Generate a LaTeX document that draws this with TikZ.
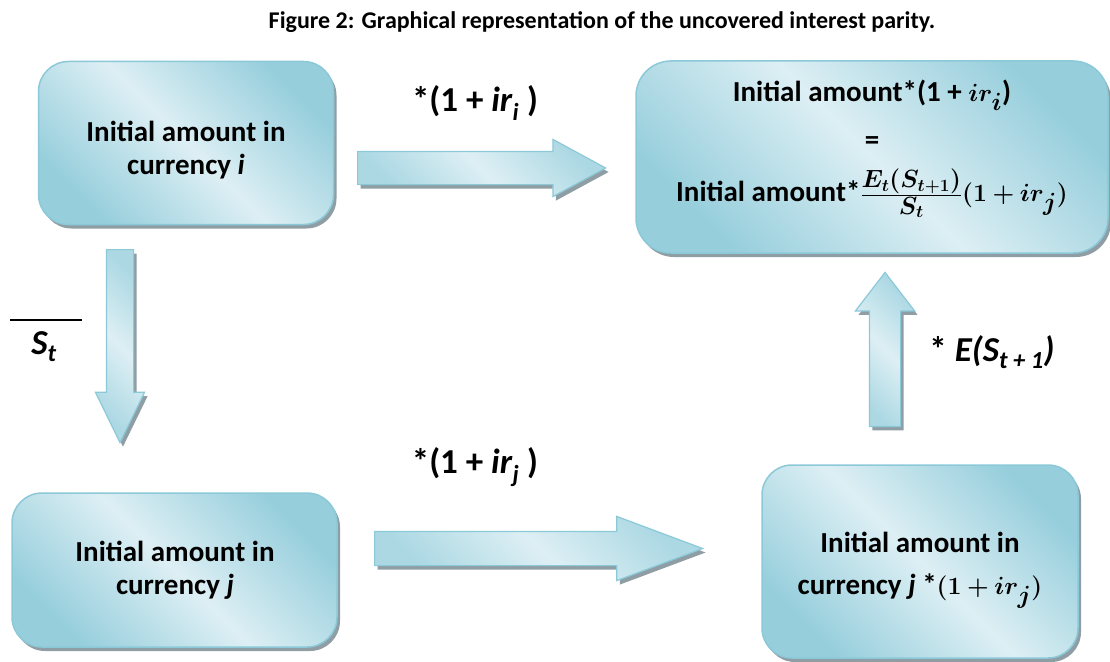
\documentclass[tikz,border=0pt]{standalone}
\usepackage{fontspec}
\setmainfont{Carlito}
\usepackage{amsmath,bm}
\usetikzlibrary{positioning, shapes.arrows, shadows}
\definecolor{tealdark}{HTML}{96CEDC}
\definecolor{teallight}{HTML}{DDEFF4}
\definecolor{tealedge}{HTML}{8CC9D8}
\definecolor{shadowgray}{HTML}{8F9EA4}
\newcommand{\bigmath}[1]{{\fontsize{35}{40}\selectfont$\bm{#1}$}}

\begin{document}
\begin{tikzpicture}[x=1pt, y=-1pt,
    box/.style={draw=tealedge, line width=1.5pt, rounded corners=30pt, top color=tealdark, bottom color=tealdark, middle color=teallight, shading angle=-45, drop shadow={shadow xshift=3pt, shadow yshift=-4pt, fill=shadowgray, opacity=1}},
    boxtext/.style={align=center, font=\fontsize{29}{33}\selectfont\bfseries},
    fat/.style={single arrow, anchor=tail, draw=tealedge, line width=1.2pt, top color=tealdark!80, bottom color=tealdark!80, middle color=teallight, shading angle=-45, drop shadow={shadow xshift=3pt, shadow yshift=-4pt, fill=shadowgray, opacity=1}},
    lab/.style={font=\fontsize{35}{40}\selectfont\bfseries}
]
\useasboundingbox (0,0) rectangle (1110,661);

% Title
\node[font=\fontsize{24}{28}\selectfont\bfseries] (title) at (602,22) {Figure 2: Graphical representation of the uncovered interest parity.};

% Boxes
\node[box, minimum width=295pt, minimum height=163pt] (curI) at (186,143) {};
\node[boxtext] (curItext) at (186,150) {Initial amount in\\currency \textit{i}};
\node[box, minimum width=472pt, minimum height=192pt, rounded corners=35pt] (final) at (872,157) {};
\node[boxtext] (finaltext) at (872,149) {Initial amount*(1 + \bigmath{ir_i})\\[15pt] =\\[19pt] Initial amount*\bigmath{\frac{E_t(S_{t+1})}{S_t}(1+ir_j)}};
\node[box, minimum width=325pt, minimum height=154pt] (curJ) at (174.5,570) {};
\node[boxtext] (curJtext) at (175,570) {Initial amount in\\currency \textit{j}};
\node[box, minimum width=316pt, minimum height=193pt] (curJint) at (920,561.5) {};
\node[boxtext] (curJinttext) at (920,570) {Initial amount in\\[9pt] currency \textit{j} *\bigmath{(1+ir_j)}};

% Arrows
\node[fat, inner sep=16pt, minimum height=248pt, single arrow head extend=12pt, single arrow tip angle=57] (arrIfin) at (357,168) {};
\node[fat, inner sep=13pt, minimum height=193pt, single arrow head extend=11pt, single arrow tip angle=52, shape border rotate=270] (arrIJ) at (120,249) {};
\node[fat, inner sep=16.5pt, minimum height=328pt, single arrow head extend=15pt, single arrow tip angle=41] (arrJJ) at (374,548.5) {};
\node[fat, inner sep=15pt, minimum height=154pt, single arrow head extend=14pt, single arrow tip angle=75, shape border rotate=90] (arrJfin) at (885,427) {};

% Labels
\node[lab] (labI) at (475,103) {*(1 + \textit{ir}\textsubscript{\textit{i}} )};
\node[lab] (labJ) at (475,467) {*(1 + \textit{ir}\textsubscript{\textit{j}} )};
\node[lab] (labE) at (992,352) {* \textit{E(S\textsubscript{t + 1})}};
\node[lab] (labS) at (44,347) {\textit{S\textsubscript{t}}};
\coordinate (barL) at (10,320);
\coordinate (barR) at (82,320);
\draw[line width=1.5pt] (barL) -- (barR);
\end{tikzpicture}
\end{document}
